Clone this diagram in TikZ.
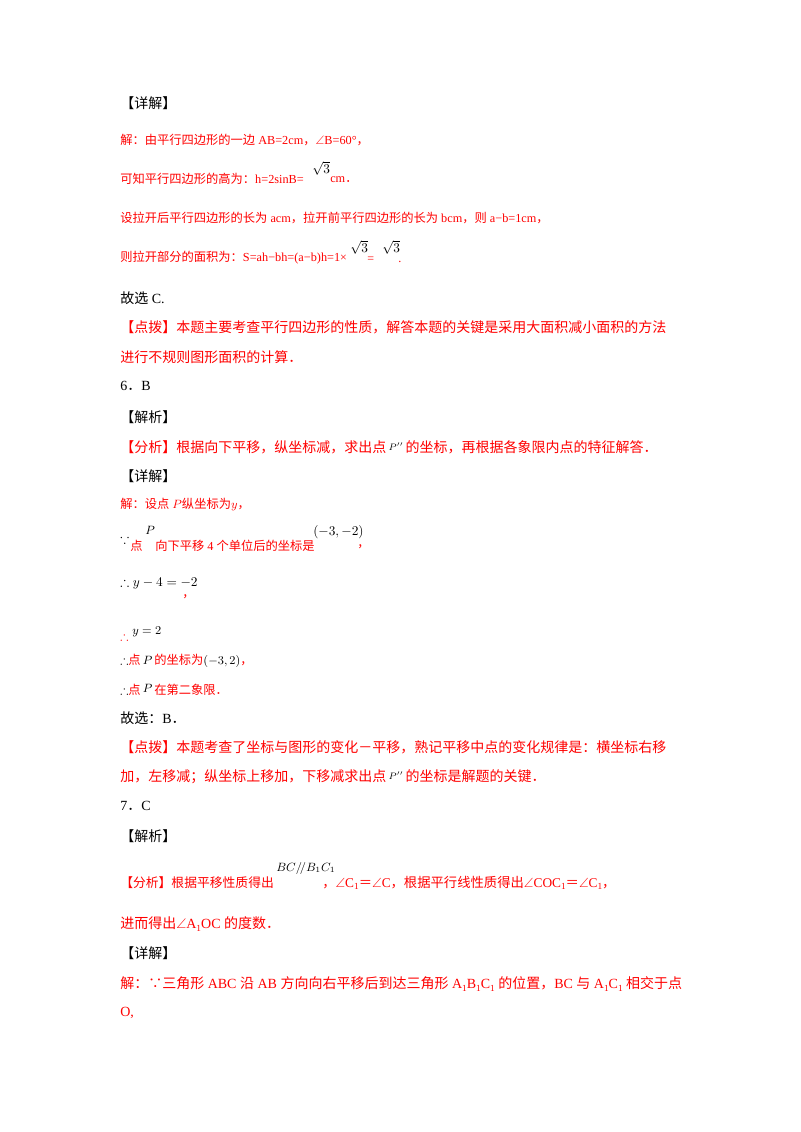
\documentclass[tikz,border=0pt]{standalone}
\usepackage{amssymb}
\usepackage{fontspec}
\setmainfont{Liberation Serif}
\newfontfamily\cjk{Noto Sans CJK SC}
\newcommand\zh[1]{{\cjk #1}}
\newcommand\lo[1]{\raisebox{-0.35ex}{\scriptsize #1}}
\begin{document}
\begin{tikzpicture}[x=0.75pt,y=-0.75pt,
  txt/.style={anchor=west,inner sep=0pt,font=\fontsize{10.5}{12}\selectfont,text=black},
  rtxt/.style={txt,text=red},
  srtxt/.style={anchor=west,inner sep=0pt,font=\fontsize{9.2}{11}\selectfont,text=red},
  mth/.style={anchor=west,inner sep=0pt,font=\fontsize{10}{12}\selectfont,text=black}]
\useasboundingbox[fill=white] (0,0) rectangle (800,1132);
\node[txt] (l1) at (120,103) {\zh{【详解】}};
\node[srtxt] (l2) at (120,140) {\zh{解：由平行四边形的一边} AB=2cm\zh{，}$\angle$B=60°\zh{，}};
\node[srtxt] (l3) at (120,179) {\zh{可知平行四边形的高为：}h=2sinB=};
\node[mth] (l3s) at (312,168) {$\sqrt{3}$};
\node[srtxt] (l3c) at (330,180) {cm\zh{．}};
\node[srtxt] (l4) at (120,218) {\zh{设拉开后平行四边形的长为} acm\zh{，拉开前平行四边形的长为} bcm\zh{，则} a−b=1cm\zh{，}};
\node[srtxt] (l5) at (120,258) {\zh{则拉开部分的面积为：}S=ah−bh=(a−b)h=1{\small ×}};
\node[mth] (l5s) at (350,247) {$\sqrt{3}$};
\node[srtxt] (l5e) at (367,260) {\small =};
\node[mth] (l5t) at (382,247) {$\sqrt{3}$};
\node[srtxt] (l5d) at (398,262) {.};
\node[txt] (l6) at (120,298) {\zh{故选} C.};
\node[rtxt] (l7) at (120,327) {\zh{【点拨】本题主要考查平行四边形的性质，解答本题的关键是采用大面积减小面积的方法}};
\node[rtxt] (l8) at (120,357) {\zh{进行不规则图形面积的计算．}};
\node[txt] (l9) at (120,386) {6\zh{．}B};
\node[txt] (l10) at (120,417) {\zh{【解析】}};
\node[rtxt] (l11) at (120,447) {\zh{【分析】根据向下平移，纵坐标减，求出点}\,\raisebox{0.3ex}{\textcolor{black}{\scriptsize$P''$}}\,\zh{的坐标，再根据各象限内点的特征解答．}};
\node[txt] (l12) at (120,476) {\zh{【详解】}};
\node[srtxt] (l13) at (120,505) {\zh{解：设点} $P$\zh{纵坐标为}$y$\zh{，}};
\node[mth] (l14a) at (120,539) {$\because$};
\node[srtxt] (l14b) at (130,546) {\zh{点}};
\node[mth] (l14c) at (145,530) {\small $P$};
\node[srtxt] (l14d) at (155,546) {\zh{向下平移} 4 \zh{个单位后的坐标是}};
\node[mth] (l14e) at (313,532) {$(-3,-2)$};
\node[srtxt] (l14f) at (357,547) {\zh{，}};
\node[mth] (l15) at (120,583) {$\therefore y-4=-2$};
\node[srtxt] (l15b) at (182,597) {\zh{，}};
\node[srtxt] (l16a) at (120,636) {$\therefore$};
\node[mth] (l16b) at (132,632) {\small $y=2$};
\node[srtxt] (l17) at (120,661) {\textcolor{black}{$\therefore$}\zh{点}\,\textcolor{black}{\small$P$}\,\zh{的坐标为}\textcolor{black}{$(-3,2)$}\zh{，}};
\node[srtxt] (l18) at (120,690) {\textcolor{black}{$\therefore$}\zh{点}\,\raisebox{0.4ex}{\textcolor{black}{\small$P$}}\,\zh{在第二象限．}};
\node[txt] (l19) at (120,718) {\zh{故选：}B\zh{．}};
\node[rtxt] (l20) at (120,747) {\zh{【点拨】本题考查了坐标与图形的变化－平移，熟记平移中点的变化规律是：横坐标右移}};
\node[rtxt] (l21) at (120,777) {\zh{加，左移减；纵坐标上移加，下移减求出点}\,\raisebox{0.3ex}{\textcolor{black}{\scriptsize$P''$}}\,\zh{的坐标是解题的关键．}};
\node[txt] (l22) at (120,806) {7\zh{．}C};
\node[txt] (l23) at (120,836) {\zh{【解析】}};
\node[srtxt,font=\fontsize{9.6}{11}\selectfont] (l24) at (120,883) {\zh{【分析】根据平移性质得出}};
\node[mth] (l24b) at (276,868) {\small $BC/\!/B_1C_1$};
\node[rtxt,font=\fontsize{10}{12}\selectfont] (l24c) at (322,883) {\zh{，}$\angle$C\lo{1}\zh{＝}$\angle$C\zh{，根据平行线性质得出}$\angle$COC\lo{1}\zh{＝}$\angle$C\lo{1}\zh{，}};
\node[rtxt] (l25) at (120,924) {\zh{进而得出}$\angle$A\lo{1}OC \zh{的度数．}};
\node[txt] (l26) at (120,953) {\zh{【详解】}};
\node[rtxt] (l27) at (120,984) {\zh{解：∵三角形} ABC \zh{沿} AB \zh{方向向右平移后到达三角形} A\lo{1}B\lo{1}C\lo{1} \zh{的位置，}BC \zh{与} A\lo{1}C\lo{1} \zh{相交于点}};
\node[rtxt] (l28) at (120,1013) {O,};
\end{tikzpicture}
\end{document}
